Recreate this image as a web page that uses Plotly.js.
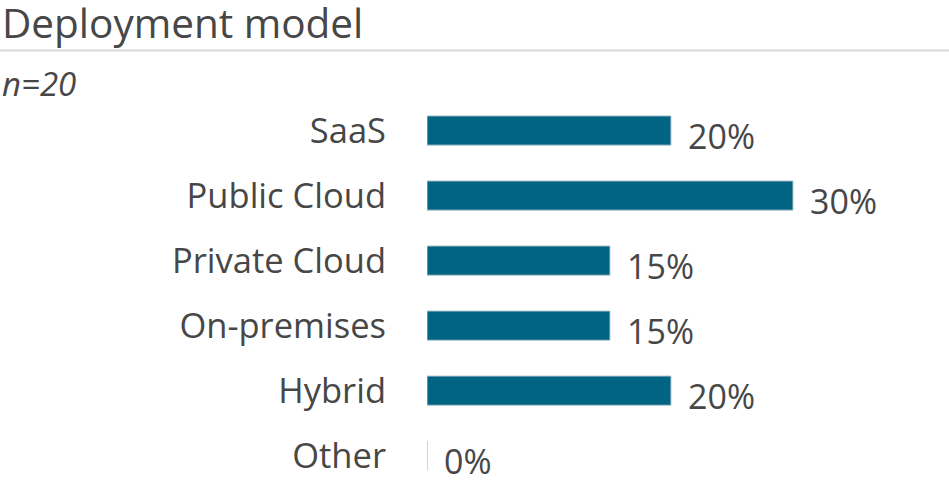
<!DOCTYPE html>
<html>
<head>
<meta charset="utf-8">
<script src="https://cdn.plot.ly/plotly-3.0.1.min.js"></script>
<style>html,body{margin:0;padding:0;background:#fff;}#chart{width:949px;height:483px;}</style>
</head>
<body>
<div id="chart"></div>
<script>
const categories = ["SaaS", "Public Cloud", "Private Cloud", "On-premises", "Hybrid", "Other"];
const values = [20, 30, 15, 15, 20, 0];
const titleText = "Deployment model";
const subtitleText = "n=20";

const W = 949, H = 483, ML = 427, MR = 34, MT = 98, MB = 0;
const plotW = W - ML - MR, plotH = H - MT - MB;
const textColor = "#474747";
const font = "Open Sans, sans-serif";

const trace = {
  type: "bar",
  orientation: "h",
  x: values,
  y: categories,
  width: 0.45,
  marker: { color: "#006482", line: { color: "#b7c9d1", width: 1 } },
  hoverinfo: "none"
};

const annotations = values.map((v, i) => ({
  x: v, y: categories[i], xref: "x", yref: "y",
  text: v + "%", showarrow: false, xanchor: "left", yanchor: "middle",
  xshift: 15, yshift: -5,
  font: { family: font, size: 34, color: textColor }
}));
annotations.push({
  xref: "paper", yref: "paper",
  x: -ML / plotW, y: (H - MB - 83) / plotH,
  xanchor: "left", yanchor: "middle",
  text: "<i>" + subtitleText + "</i>", showarrow: false,
  font: { family: font, size: 33, color: textColor }
});

const layout = {
  width: W, height: H,
  margin: { l: ML, r: MR, t: MT, b: MB, pad: 0 },
  paper_bgcolor: "#ffffff", plot_bgcolor: "#ffffff",
  showlegend: false,
  title: {
    text: titleText, xref: "container", yref: "container",
    x: 0.002, xanchor: "left", y: 1 - 24 / H, yanchor: "middle",
    pad: { l: 0, t: 0 },
    font: { family: font, size: 40.5, color: textColor }
  },
  xaxis: { range: [0, 40], visible: false, fixedrange: true },
  yaxis: {
    type: "category", categoryorder: "array", categoryarray: categories,
    range: [5.42, -0.5],
    showgrid: false, zeroline: false, showline: false, ticks: "",
    ticklabelstandoff: 40,
    tickfont: { family: font, size: 34.5, color: textColor },
    fixedrange: true
  },
  shapes: [{
    type: "line", xref: "paper", yref: "paper",
    x0: -ML / plotW, x1: (W - ML) / plotW,
    y0: (H - MB - 50.5) / plotH, y1: (H - MB - 50.5) / plotH,
    line: { color: "#d9d9d9", width: 2 }
  }],
  annotations: annotations
};

Plotly.newPlot("chart", [trace], layout, { displayModeBar: false, staticPlot: true });
</script>
</body>
</html>
